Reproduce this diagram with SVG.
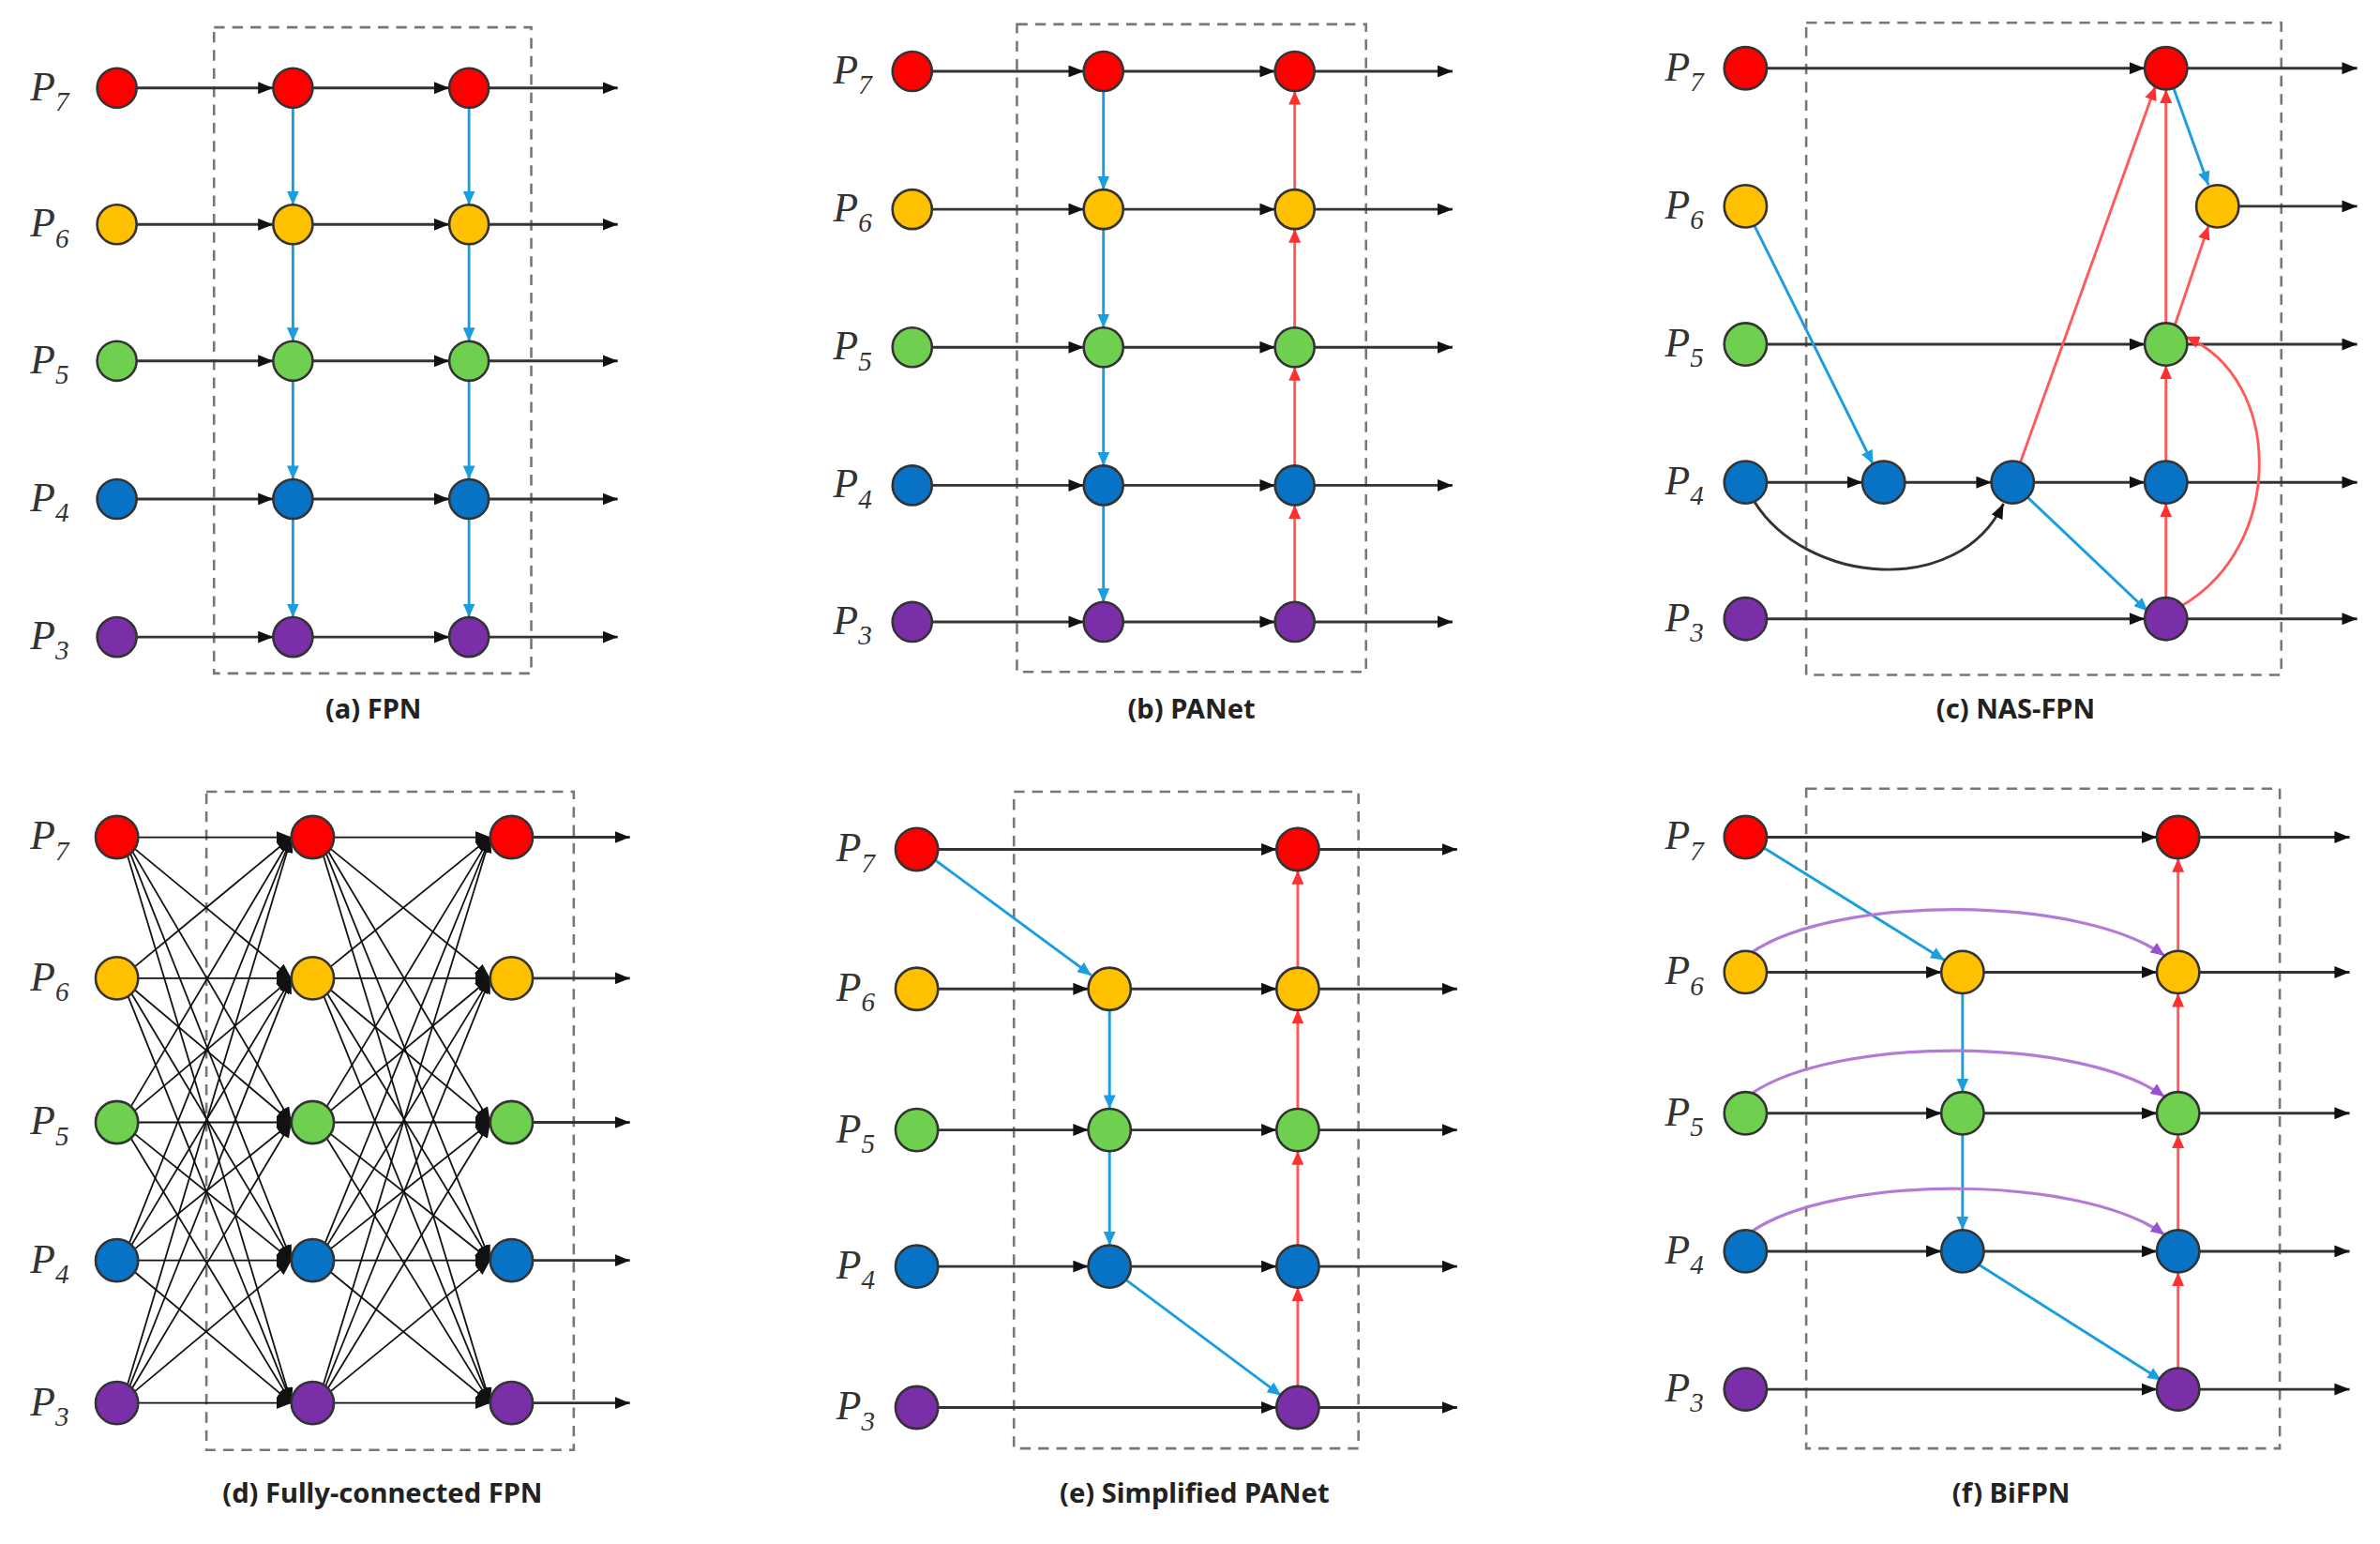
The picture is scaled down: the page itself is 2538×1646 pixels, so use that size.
<svg xmlns="http://www.w3.org/2000/svg" width="2538" height="1646" viewBox="0 0 2538 1646">
<style>
.r{fill:#ff0000}.y{fill:#ffc000}.g{fill:#6fcf4f}.b{fill:#0872c4}.p{fill:#7a2fa8}
circle{stroke:#333;stroke-width:1.6}
.k{stroke:#333;stroke-width:1.8;fill:none;marker-end:url(#ak)}
.bl{stroke:#1a9ee0;stroke-width:1.8;fill:none;marker-end:url(#ab)}
.rd{stroke:#ff5a5a;stroke-width:1.8;fill:none;marker-end:url(#ar)}
.pu{stroke:#b47ad6;stroke-width:2;fill:none;marker-end:url(#ap)}
.fc{stroke:#111;stroke-width:1.1;fill:none;marker-end:url(#ak)}
.box{fill:none;stroke:#777;stroke-width:1.6;stroke-dasharray:7 5}
.lab{font-family:"Liberation Serif",serif;font-style:italic;font-size:27px;fill:#333}
.sub{font-size:18px}
.cap{font-family:"Noto Sans",sans-serif;font-weight:bold;font-size:18px;fill:#222;text-anchor:middle}
</style>
<defs>
<marker id="ak" markerUnits="userSpaceOnUse" markerWidth="10" markerHeight="8" refX="10" refY="4" orient="auto"><path d="M0,0L10,4L0,8z" fill="#111"/></marker>
<marker id="ab" markerUnits="userSpaceOnUse" markerWidth="9" markerHeight="8" refX="9" refY="4" orient="auto"><path d="M0,0L9,4L0,8z" fill="#1a9ee0"/></marker>
<marker id="ar" markerUnits="userSpaceOnUse" markerWidth="9" markerHeight="8" refX="9" refY="4" orient="auto"><path d="M0,0L9,4L0,8z" fill="#ff3030"/></marker>
<marker id="ap" markerUnits="userSpaceOnUse" markerWidth="9" markerHeight="8" refX="9" refY="4" orient="auto"><path d="M0,0L9,4L0,8z" fill="#9a50d0"/></marker>
</defs>
<rect width="2538" height="1646" fill="#fff"/>
<g transform="scale(1.6186,1.6169)">
<g id="boxes">
<rect class="box" x="141" y="18" width="209" height="426"/>
<rect class="box" x="670" y="16" width="230" height="427"/>
<rect class="box" x="1190" y="15" width="313" height="430"/>
<rect class="box" x="136" y="522" width="242" height="434"/>
<rect class="box" x="668" y="522" width="227" height="433"/>
<rect class="box" x="1190" y="520" width="312" height="435"/>
</g>
<g id="labels">
<text class="lab" x="20" y="66">P<tspan class="sub" dy="7">7</tspan></text>
<text class="lab" x="20" y="156">P<tspan class="sub" dy="7">6</tspan></text>
<text class="lab" x="20" y="246">P<tspan class="sub" dy="7">5</tspan></text>
<text class="lab" x="20" y="337">P<tspan class="sub" dy="7">4</tspan></text>
<text class="lab" x="20" y="428">P<tspan class="sub" dy="7">3</tspan></text>
<text class="lab" x="549" y="55">P<tspan class="sub" dy="7">7</tspan></text>
<text class="lab" x="549" y="146">P<tspan class="sub" dy="7">6</tspan></text>
<text class="lab" x="549" y="237">P<tspan class="sub" dy="7">5</tspan></text>
<text class="lab" x="549" y="328">P<tspan class="sub" dy="7">4</tspan></text>
<text class="lab" x="549" y="418">P<tspan class="sub" dy="7">3</tspan></text>
<text class="lab" x="1097" y="53">P<tspan class="sub" dy="7">7</tspan></text>
<text class="lab" x="1097" y="144">P<tspan class="sub" dy="7">6</tspan></text>
<text class="lab" x="1097" y="235">P<tspan class="sub" dy="7">5</tspan></text>
<text class="lab" x="1097" y="326">P<tspan class="sub" dy="7">4</tspan></text>
<text class="lab" x="1097" y="416">P<tspan class="sub" dy="7">3</tspan></text>
<text class="lab" x="20" y="560">P<tspan class="sub" dy="7">7</tspan></text>
<text class="lab" x="20" y="653">P<tspan class="sub" dy="7">6</tspan></text>
<text class="lab" x="20" y="748">P<tspan class="sub" dy="7">5</tspan></text>
<text class="lab" x="20" y="839">P<tspan class="sub" dy="7">4</tspan></text>
<text class="lab" x="20" y="933">P<tspan class="sub" dy="7">3</tspan></text>
<text class="lab" x="551" y="568">P<tspan class="sub" dy="7">7</tspan></text>
<text class="lab" x="551" y="660">P<tspan class="sub" dy="7">6</tspan></text>
<text class="lab" x="551" y="753">P<tspan class="sub" dy="7">5</tspan></text>
<text class="lab" x="551" y="843">P<tspan class="sub" dy="7">4</tspan></text>
<text class="lab" x="551" y="936">P<tspan class="sub" dy="7">3</tspan></text>
<text class="lab" x="1097" y="560">P<tspan class="sub" dy="7">7</tspan></text>
<text class="lab" x="1097" y="649">P<tspan class="sub" dy="7">6</tspan></text>
<text class="lab" x="1097" y="742">P<tspan class="sub" dy="7">5</tspan></text>
<text class="lab" x="1097" y="833">P<tspan class="sub" dy="7">4</tspan></text>
<text class="lab" x="1097" y="924">P<tspan class="sub" dy="7">3</tspan></text>
<text class="cap" x="246" y="474">(a) FPN</text>
<text class="cap" x="785" y="474">(b) PANet</text>
<text class="cap" x="1328" y="474">(c) NAS-FPN</text>
<text class="cap" x="252" y="991">(d) Fully-connected FPN</text>
<text class="cap" x="787" y="991">(e) Simplified PANet</text>
<text class="cap" x="1325" y="991">(f) BiFPN</text>
</g>
<g id="connectors">
<!-- a -->
<path class="k" d="M90 58H180"/><path class="k" d="M206 58H296"/><path class="k" d="M322 58H407"/>
<path class="k" d="M90 148H180"/><path class="k" d="M206 148H296"/><path class="k" d="M322 148H407"/>
<path class="k" d="M90 238H180"/><path class="k" d="M206 238H296"/><path class="k" d="M322 238H407"/>
<path class="k" d="M90 329H180"/><path class="k" d="M206 329H296"/><path class="k" d="M322 329H407"/>
<path class="k" d="M90 420H180"/><path class="k" d="M206 420H296"/><path class="k" d="M322 420H407"/>
<path class="bl" d="M193 71V135"/><path class="bl" d="M193 161V225"/><path class="bl" d="M193 251V316"/><path class="bl" d="M193 342V407"/>
<path class="bl" d="M309 71V135"/><path class="bl" d="M309 161V225"/><path class="bl" d="M309 251V316"/><path class="bl" d="M309 342V407"/>
<!-- b -->
<path class="k" d="M614 47H714"/><path class="k" d="M740 47H840"/><path class="k" d="M866 47H957"/>
<path class="k" d="M614 138H714"/><path class="k" d="M740 138H840"/><path class="k" d="M866 138H957"/>
<path class="k" d="M614 229H714"/><path class="k" d="M740 229H840"/><path class="k" d="M866 229H957"/>
<path class="k" d="M614 320H714"/><path class="k" d="M740 320H840"/><path class="k" d="M866 320H957"/>
<path class="k" d="M614 410H714"/><path class="k" d="M740 410H840"/><path class="k" d="M866 410H957"/>
<path class="bl" d="M727 60V125"/><path class="bl" d="M727 151V216"/><path class="bl" d="M727 242V307"/><path class="bl" d="M727 333V397"/>
<path class="rd" d="M853 397V333"/><path class="rd" d="M853 307V242"/><path class="rd" d="M853 216V151"/><path class="rd" d="M853 125V60"/>
<!-- c -->
<path class="k" d="M1164 45H1413"/><path class="k" d="M1441 45H1553"/>
<path class="k" d="M1475 136H1553"/>
<path class="k" d="M1164 227H1413"/><path class="k" d="M1441 227H1553"/>
<path class="k" d="M1164 318H1227"/><path class="k" d="M1255 318H1312"/><path class="k" d="M1340 318H1413"/><path class="k" d="M1441 318H1553"/>
<path class="k" d="M1164 408H1413"/><path class="k" d="M1441 408H1553"/>
<path class="k" d="M1156 331C1190 385 1290 395 1320 332"/>
<path class="bl" d="M1156 149L1234 306"/><path class="bl" d="M1336 328L1415 403"/><path class="bl" d="M1432 58L1455 122"/>
<path class="rd" d="M1331 305L1420 57"/><path class="rd" d="M1427 394V332"/><path class="rd" d="M1427 304V241"/><path class="rd" d="M1427 213V59"/>
<path class="rd" d="M1433 214L1455 149"/><path class="rd" d="M1438 399C1505 360 1505 250 1440 222"/>
<!-- d -->
<path class="fc" d="M91 552H192"/><path class="fc" d="M91 645H192"/><path class="fc" d="M91 740H192"/><path class="fc" d="M91 831H192"/><path class="fc" d="M91 925H192"/>
<path class="fc" d="M220 552H323"/><path class="fc" d="M220 645H323"/><path class="fc" d="M220 740H323"/><path class="fc" d="M220 831H323"/><path class="fc" d="M220 925H323"/>
<path class="k" d="M351 552H415"/><path class="k" d="M351 645H415"/><path class="k" d="M351 740H415"/><path class="k" d="M351 831H415"/><path class="k" d="M351 925H415"/>
<path class="fc" d="M88 559L192 645"/><path class="fc" d="M87 561L192 740"/><path class="fc" d="M86 563L192 831"/><path class="fc" d="M84 564L192 925"/>
<path class="fc" d="M88 638L192 552"/><path class="fc" d="M88 652L192 740"/><path class="fc" d="M86 654L192 831"/><path class="fc" d="M84 656L192 925"/>
<path class="fc" d="M86 730L192 552"/><path class="fc" d="M88 733L192 645"/><path class="fc" d="M88 747L192 831"/><path class="fc" d="M86 750L192 925"/>
<path class="fc" d="M85 820L192 552"/><path class="fc" d="M86 822L192 645"/><path class="fc" d="M88 824L192 740"/><path class="fc" d="M88 838L192 925"/>
<path class="fc" d="M84 913L192 552"/><path class="fc" d="M85 915L192 645"/><path class="fc" d="M86 917L192 740"/><path class="fc" d="M88 918L192 831"/>
<path class="fc" d="M217 559L323 645"/><path class="fc" d="M216 561L323 740"/><path class="fc" d="M215 563L323 831"/><path class="fc" d="M213 564L323 925"/>
<path class="fc" d="M217 638L323 552"/><path class="fc" d="M217 652L323 740"/><path class="fc" d="M215 654L323 831"/><path class="fc" d="M213 656L323 925"/>
<path class="fc" d="M215 730L323 552"/><path class="fc" d="M217 733L323 645"/><path class="fc" d="M217 747L323 831"/><path class="fc" d="M215 750L323 925"/>
<path class="fc" d="M214 820L323 552"/><path class="fc" d="M215 822L323 645"/><path class="fc" d="M217 824L323 740"/><path class="fc" d="M217 838L323 925"/>
<path class="fc" d="M213 913L323 552"/><path class="fc" d="M214 915L323 645"/><path class="fc" d="M215 917L323 740"/><path class="fc" d="M217 918L323 831"/>
<!-- e -->
<path class="k" d="M618 560H841"/><path class="k" d="M869 560H960"/>
<path class="k" d="M618 652H717"/><path class="k" d="M745 652H841"/><path class="k" d="M869 652H960"/>
<path class="k" d="M618 745H717"/><path class="k" d="M745 745H841"/><path class="k" d="M869 745H960"/>
<path class="k" d="M618 835H717"/><path class="k" d="M745 835H841"/><path class="k" d="M869 835H960"/>
<path class="k" d="M618 928H841"/><path class="k" d="M869 928H960"/>
<path class="bl" d="M616 567L719 643"/><path class="bl" d="M731 666V731"/><path class="bl" d="M731 759V821"/><path class="bl" d="M742 844L844 920"/>
<path class="rd" d="M855 914V849"/><path class="rd" d="M855 821V759"/><path class="rd" d="M855 731V666"/><path class="rd" d="M855 638V574"/>
<!-- f -->
<path class="k" d="M1164 552H1421"/><path class="k" d="M1449 552H1548"/>
<path class="k" d="M1164 641H1279"/><path class="k" d="M1307 641H1421"/><path class="k" d="M1449 641H1548"/>
<path class="k" d="M1164 734H1279"/><path class="k" d="M1307 734H1421"/><path class="k" d="M1449 734H1548"/>
<path class="k" d="M1164 825H1279"/><path class="k" d="M1307 825H1421"/><path class="k" d="M1449 825H1548"/>
<path class="k" d="M1164 916H1421"/><path class="k" d="M1449 916H1548"/>
<path class="bl" d="M1162 559L1281 633"/><path class="bl" d="M1293 655V720"/><path class="bl" d="M1293 748V811"/><path class="bl" d="M1304 834L1424 910"/>
<path class="rd" d="M1435 902V839"/><path class="rd" d="M1435 811V748"/><path class="rd" d="M1435 720V655"/><path class="rd" d="M1435 627V566"/>
<path class="pu" d="M1154 628C1210 590 1370 590 1426 630"/>
<path class="pu" d="M1154 721C1210 683 1370 683 1426 723"/>
<path class="pu" d="M1154 812C1210 774 1370 774 1426 814"/>
</g>
<g id="a_L7"><circle class="r" cx="77" cy="58" r="13"/></g>
<g id="a_L6"><circle class="y" cx="77" cy="148" r="13"/></g>
<g id="a_L5"><circle class="g" cx="77" cy="238" r="13"/></g>
<g id="a_L4"><circle class="b" cx="77" cy="329" r="13"/></g>
<g id="a_L3"><circle class="p" cx="77" cy="420" r="13"/></g>
<g id="a_M7"><circle class="r" cx="193" cy="58" r="13"/></g>
<g id="a_M6"><circle class="y" cx="193" cy="148" r="13"/></g>
<g id="a_M5"><circle class="g" cx="193" cy="238" r="13"/></g>
<g id="a_M4"><circle class="b" cx="193" cy="329" r="13"/></g>
<g id="a_M3"><circle class="p" cx="193" cy="420" r="13"/></g>
<g id="a_R7"><circle class="r" cx="309" cy="58" r="13"/></g>
<g id="a_R6"><circle class="y" cx="309" cy="148" r="13"/></g>
<g id="a_R5"><circle class="g" cx="309" cy="238" r="13"/></g>
<g id="a_R4"><circle class="b" cx="309" cy="329" r="13"/></g>
<g id="a_R3"><circle class="p" cx="309" cy="420" r="13"/></g>
<g id="b_L7"><circle class="r" cx="601" cy="47" r="13"/></g>
<g id="b_L6"><circle class="y" cx="601" cy="138" r="13"/></g>
<g id="b_L5"><circle class="g" cx="601" cy="229" r="13"/></g>
<g id="b_L4"><circle class="b" cx="601" cy="320" r="13"/></g>
<g id="b_L3"><circle class="p" cx="601" cy="410" r="13"/></g>
<g id="b_M7"><circle class="r" cx="727" cy="47" r="13"/></g>
<g id="b_M6"><circle class="y" cx="727" cy="138" r="13"/></g>
<g id="b_M5"><circle class="g" cx="727" cy="229" r="13"/></g>
<g id="b_M4"><circle class="b" cx="727" cy="320" r="13"/></g>
<g id="b_M3"><circle class="p" cx="727" cy="410" r="13"/></g>
<g id="b_R7"><circle class="r" cx="853" cy="47" r="13"/></g>
<g id="b_R6"><circle class="y" cx="853" cy="138" r="13"/></g>
<g id="b_R5"><circle class="g" cx="853" cy="229" r="13"/></g>
<g id="b_R4"><circle class="b" cx="853" cy="320" r="13"/></g>
<g id="b_R3"><circle class="p" cx="853" cy="410" r="13"/></g>
<g id="c_L7"><circle class="r" cx="1150" cy="45" r="14"/></g>
<g id="c_L6"><circle class="y" cx="1150" cy="136" r="14"/></g>
<g id="c_L5"><circle class="g" cx="1150" cy="227" r="14"/></g>
<g id="c_L4"><circle class="b" cx="1150" cy="318" r="14"/></g>
<g id="c_L3"><circle class="p" cx="1150" cy="408" r="14"/></g>
<g id="c_N4a"><circle class="b" cx="1241" cy="318" r="14"/></g>
<g id="c_N4b"><circle class="b" cx="1326" cy="318" r="14"/></g>
<g id="c_O7"><circle class="r" cx="1427" cy="45" r="14"/></g>
<g id="c_O6"><circle class="y" cx="1461" cy="136" r="14"/></g>
<g id="c_O5"><circle class="g" cx="1427" cy="227" r="14"/></g>
<g id="c_O4"><circle class="b" cx="1427" cy="318" r="14"/></g>
<g id="c_O3"><circle class="p" cx="1427" cy="408" r="14"/></g>
<g id="d_L7"><circle class="r" cx="77" cy="552" r="14"/></g>
<g id="d_L6"><circle class="y" cx="77" cy="645" r="14"/></g>
<g id="d_L5"><circle class="g" cx="77" cy="740" r="14"/></g>
<g id="d_L4"><circle class="b" cx="77" cy="831" r="14"/></g>
<g id="d_L3"><circle class="p" cx="77" cy="925" r="14"/></g>
<g id="d_M7"><circle class="r" cx="206" cy="552" r="14"/></g>
<g id="d_M6"><circle class="y" cx="206" cy="645" r="14"/></g>
<g id="d_M5"><circle class="g" cx="206" cy="740" r="14"/></g>
<g id="d_M4"><circle class="b" cx="206" cy="831" r="14"/></g>
<g id="d_M3"><circle class="p" cx="206" cy="925" r="14"/></g>
<g id="d_R7"><circle class="r" cx="337" cy="552" r="14"/></g>
<g id="d_R6"><circle class="y" cx="337" cy="645" r="14"/></g>
<g id="d_R5"><circle class="g" cx="337" cy="740" r="14"/></g>
<g id="d_R4"><circle class="b" cx="337" cy="831" r="14"/></g>
<g id="d_R3"><circle class="p" cx="337" cy="925" r="14"/></g>
<g id="e_L7"><circle class="r" cx="604" cy="560" r="14"/></g>
<g id="e_L6"><circle class="y" cx="604" cy="652" r="14"/></g>
<g id="e_L5"><circle class="g" cx="604" cy="745" r="14"/></g>
<g id="e_L4"><circle class="b" cx="604" cy="835" r="14"/></g>
<g id="e_L3"><circle class="p" cx="604" cy="928" r="14"/></g>
<g id="e_M6"><circle class="y" cx="731" cy="652" r="14"/></g>
<g id="e_M5"><circle class="g" cx="731" cy="745" r="14"/></g>
<g id="e_M4"><circle class="b" cx="731" cy="835" r="14"/></g>
<g id="e_R7"><circle class="r" cx="855" cy="560" r="14"/></g>
<g id="e_R6"><circle class="y" cx="855" cy="652" r="14"/></g>
<g id="e_R5"><circle class="g" cx="855" cy="745" r="14"/></g>
<g id="e_R4"><circle class="b" cx="855" cy="835" r="14"/></g>
<g id="e_R3"><circle class="p" cx="855" cy="928" r="14"/></g>
<g id="f_L7"><circle class="r" cx="1150" cy="552" r="14"/></g>
<g id="f_L6"><circle class="y" cx="1150" cy="641" r="14"/></g>
<g id="f_L5"><circle class="g" cx="1150" cy="734" r="14"/></g>
<g id="f_L4"><circle class="b" cx="1150" cy="825" r="14"/></g>
<g id="f_L3"><circle class="p" cx="1150" cy="916" r="14"/></g>
<g id="f_M6"><circle class="y" cx="1293" cy="641" r="14"/></g>
<g id="f_M5"><circle class="g" cx="1293" cy="734" r="14"/></g>
<g id="f_M4"><circle class="b" cx="1293" cy="825" r="14"/></g>
<g id="f_R7"><circle class="r" cx="1435" cy="552" r="14"/></g>
<g id="f_R6"><circle class="y" cx="1435" cy="641" r="14"/></g>
<g id="f_R5"><circle class="g" cx="1435" cy="734" r="14"/></g>
<g id="f_R4"><circle class="b" cx="1435" cy="825" r="14"/></g>
<g id="f_R3"><circle class="p" cx="1435" cy="916" r="14"/></g>
</g>
</svg>
